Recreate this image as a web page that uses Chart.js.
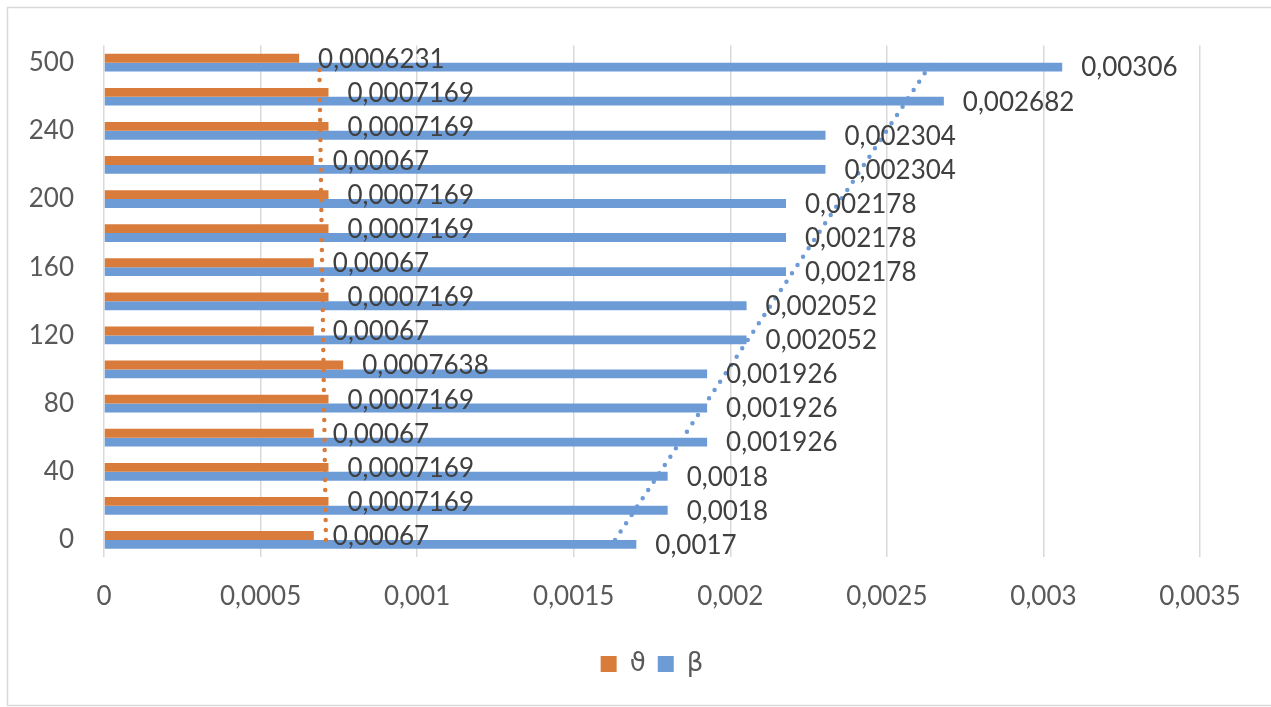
<!DOCTYPE html>
<html>
<head>
<meta charset="utf-8">
<script src="https://cdn.jsdelivr.net/npm/chart.js@4/dist/chart.umd.min.js"></script>
<style>
  html, body { margin: 0; padding: 0; background: #ffffff; }
  #wrap { width: 1271px; height: 707px; }
</style>
</head>
<body>
<div id="wrap"><canvas id="chart" width="1271" height="707"></canvas></div>
<script>
// Categories, bottom to top
const categories = ['0', '20', '40', '60', '80', '100', '120', '140', '160', '180', '200', '220', '240', '260', '500'];

// ϑ series
const thetaValues = [0.00067, 0.0007169, 0.0007169, 0.00067, 0.0007169, 0.0007638, 0.00067, 0.0007169,
                     0.00067, 0.0007169, 0.0007169, 0.00067, 0.0007169, 0.0007169, 0.0006231];

// β series
const betaValues = [0.0017, 0.0018, 0.0018, 0.001926, 0.001926, 0.001926, 0.002052, 0.002052,
                    0.002178, 0.002178, 0.002178, 0.002304, 0.002304, 0.002682, 0.00306];

// Value-axis tick labels (decimal comma)
const xTickLabels = ['0', '0,0005', '0,001', '0,0015', '0,002', '0,0025', '0,003', '0,0035'];

const ORANGE = '#D97C3B';
const BLUE = '#6D9BD6';
const FONT = 'Lato, "Open Sans", "DejaVu Sans", sans-serif';

// Least-squares linear trendline over the category index
function linearTrend(values) {
  const n = values.length;
  let sx = 0, sy = 0;
  values.forEach((v, i) => { sx += i; sy += v; });
  const mx = sx / n, my = sy / n;
  let sxy = 0, sxx = 0;
  values.forEach((v, i) => { sxy += (i - mx) * (v - my); sxx += (i - mx) * (i - mx); });
  const slope = sxy / sxx;
  const intercept = my - slope * mx;
  return values.map((_, i) => intercept + slope * i);
}

const fmt = v => String(v).replace('.', ',');

// Value labels to the right of each bar
const barValueLabels = {
  id: 'barValueLabels',
  afterDatasetsDraw(chart) {
    const ctx = chart.ctx;
    ctx.save();
    ctx.font = '26px ' + FONT;
    ctx.fillStyle = '#404040';
    ctx.textAlign = 'left';
    ctx.textBaseline = 'middle';
    [0, 1].forEach(di => {
      const meta = chart.getDatasetMeta(di);
      meta.data.forEach((bar, i) => {
        const v = chart.data.datasets[di].data[i];
        ctx.fillText(fmt(v), bar.x + 19, bar.y + 1);
      });
    });
    ctx.restore();
  }
};

// White background and thin outer frame
const chartFrame = {
  id: 'chartFrame',
  beforeDraw(chart) {
    const ctx = chart.ctx;
    ctx.save();
    ctx.fillStyle = '#ffffff';
    ctx.fillRect(0, 0, chart.width, chart.height);
    ctx.strokeStyle = '#d9d9d9';
    ctx.lineWidth = 1.5;
    ctx.strokeRect(7.5, 7.5, chart.width + 20, 698);
    ctx.restore();
  }
};

new Chart(document.getElementById('chart'), {
  type: 'bar',
  data: {
    labels: categories,
    datasets: [
      {
        type: 'bar', label: 'ϑ', data: thetaValues,
        backgroundColor: ORANGE, borderWidth: 0,
        categoryPercentage: 0.52, barPercentage: 1, order: 1
      },
      {
        type: 'bar', label: 'β', data: betaValues,
        backgroundColor: BLUE, borderWidth: 0,
        categoryPercentage: 0.52, barPercentage: 1, order: 1
      },
      {
        type: 'line', label: 'trend ϑ', data: linearTrend(thetaValues), indexAxis: 'y',
        borderColor: ORANGE, borderWidth: 4.5, borderDash: [0, 10], borderCapStyle: 'round',
        pointRadius: 0, fill: false, tension: 0, order: 0
      },
      {
        type: 'line', label: 'trend β', data: linearTrend(betaValues), indexAxis: 'y',
        borderColor: BLUE, borderWidth: 4.5, borderDash: [0, 10], borderCapStyle: 'round',
        pointRadius: 0, fill: false, tension: 0, order: 0
      }
    ]
  },
  options: {
    indexAxis: 'y',
    responsive: false,
    animation: false,
    devicePixelRatio: 1,
    layout: { padding: { left: 0, right: 71, top: 45, bottom: 20 } },
    scales: {
      x: {
        type: 'linear', position: 'bottom', min: 0, max: 0.0035,
        ticks: {
          stepSize: 0.0005,
          callback: (v, i) => xTickLabels[i],
          font: { family: FONT, size: 26 },
          color: '#595959',
          padding: 24,
          maxRotation: 0
        },
        grid: { color: '#d9d9d9', lineWidth: 1.5, drawTicks: false },
        border: { display: false },
        afterFit(scale) { scale.height = 82; }
      },
      y: {
        type: 'category', reverse: true,
        grid: { display: false, drawTicks: false },
        border: { display: false },
        ticks: {
          autoSkip: false,
          callback: function (v, i) { return i % 2 === 0 ? this.getLabelForValue(v) : ''; },
          font: { family: FONT, size: 26 },
          color: '#595959',
          padding: 30
        },
        afterFit(scale) { scale.width = 104; }
      }
    },
    plugins: {
      tooltip: { enabled: false },
      legend: {
        position: 'bottom',
        fullSize: false,
        labels: {
          filter: item => item.datasetIndex < 2,
          boxWidth: 16, boxHeight: 16,
          padding: 12,
          color: '#595959',
          font: { family: '"DejaVu Sans", sans-serif', size: 26 }
        }
      }
    }
  },
  plugins: [chartFrame, barValueLabels]
});
</script>
</body>
</html>
